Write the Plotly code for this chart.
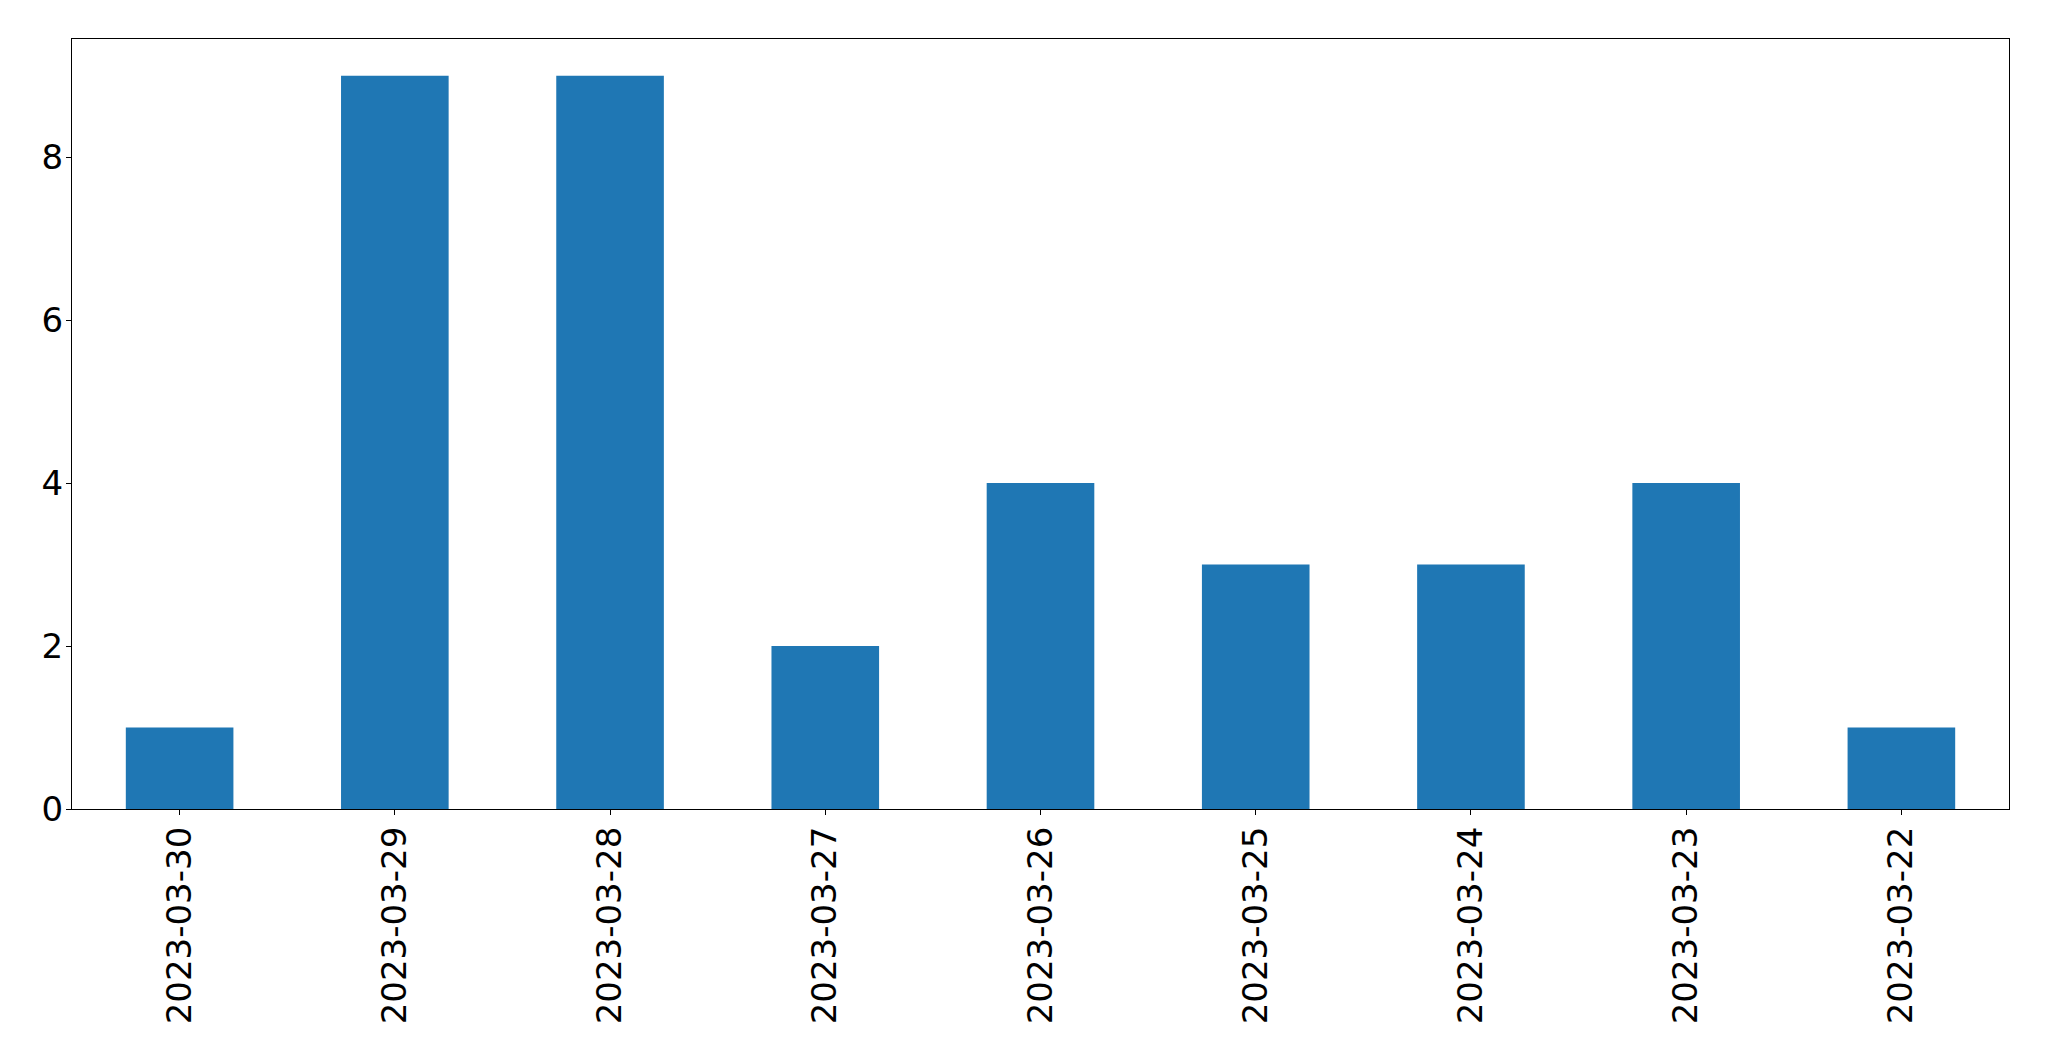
import plotly.graph_objects as go

dates = ["2023-03-30", "2023-03-29", "2023-03-28", "2023-03-27", "2023-03-26",
         "2023-03-25", "2023-03-24", "2023-03-23", "2023-03-22"]
counts = [1, 9, 9, 2, 4, 3, 3, 4, 1]
y_ticks = [0, 2, 4, 6, 8]

fig = go.Figure(go.Bar(x=dates, y=counts, marker=dict(color="#1f77b4", line=dict(width=0))))

fig.update_layout(
    width=2033, height=1045,
    margin=dict(l=64, r=32, t=31, b=244),
    paper_bgcolor="white", plot_bgcolor="white",
    bargap=0.5, showlegend=False,
    font=dict(family="DejaVu Sans", size=34, color="black"),
)
fig.update_xaxes(
    type="category", tickangle=-90, range=[-0.5, 8.5], automargin=False,
    showline=True, linecolor="black", linewidth=1.3, mirror=True,
    ticks="outside", ticklen=5, tickwidth=1.3, tickcolor="black",
    showgrid=False, zeroline=False, ticklabelstandoff=-2,
)
fig.update_yaxes(
    range=[0, 9.45], tickvals=y_ticks, automargin=False,
    showline=True, linecolor="black", linewidth=1.3, mirror=True,
    ticks="outside", ticklen=5, tickwidth=1.3, tickcolor="black",
    showgrid=False, zeroline=False, ticklabelstandoff=-4,
)

fig.write_html("out.html")
